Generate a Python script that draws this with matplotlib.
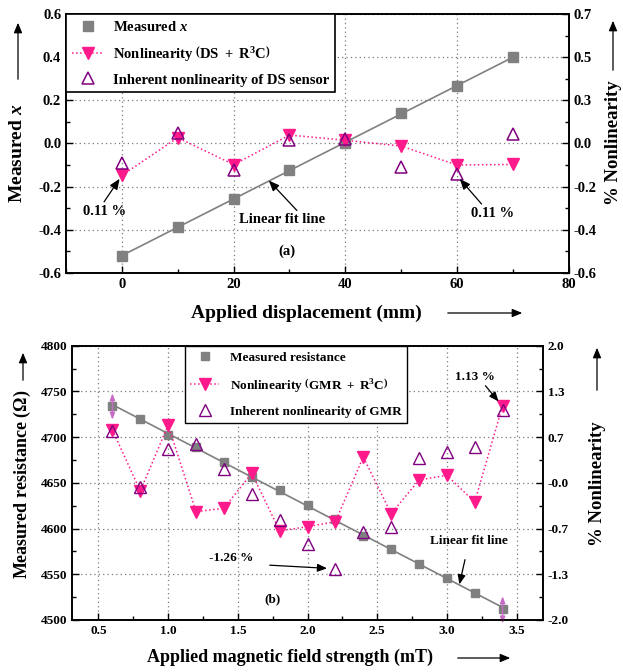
import numpy as np
import matplotlib
matplotlib.use('Agg')
import matplotlib.pyplot as plt
from matplotlib.lines import Line2D

plt.rcParams['font.family'] = ['Liberation Serif', 'DejaVu Serif']
plt.rcParams['font.weight'] = 'bold'
plt.rcParams['mathtext.fontset'] = 'custom'
plt.rcParams['mathtext.rm'] = 'Liberation Serif:bold'
plt.rcParams['mathtext.it'] = 'Liberation Serif:bold:italic'
plt.rcParams['mathtext.bf'] = 'Liberation Serif:bold'

# (a) displacement sensor
disp_mm = [0, 10, 20, 30, 40, 50, 60, 70]
measured_x = [-0.52, -0.389, -0.258, -0.121, 0.0, 0.14, 0.268, 0.40]
nonlin_ds_r3c = [-0.148, 0.027, -0.098, 0.039, 0.015, -0.012, -0.10, -0.097]
nonlin_ds_inherent = [-0.089, 0.047, -0.121, 0.015, 0.023, -0.109, -0.143, 0.042]
ticks_a_right = ['-0.6', '-0.4', '-0.2', '0.0', '0.3', '0.5', '0.7']

# (b) GMR sensor
field_mt = [0.6, 0.8, 1.0, 1.2, 1.4, 1.6, 1.8, 2.0, 2.2, 2.4, 2.6, 2.8, 3.0, 3.2, 3.4]
resistance = [4734, 4719.8, 4701.9, 4688.8, 4673, 4656, 4641.8, 4626, 4610.4,
              4592.2, 4577.6, 4560.8, 4545.5, 4530, 4511.6]
nonlin_gmr_r3c = [0.77, -0.12, 0.843, -0.42, -0.37, 0.14, -0.70, -0.64, -0.566,
                  0.377, -0.45, 0.04, 0.11, -0.28, 1.125]
nonlin_gmr_inherent = [0.756, -0.056, 0.488, 0.566, 0.20, -0.16, -0.54, -0.89, -1.25,
                       -0.72, -0.64, 0.357, 0.445, 0.527, 1.057]
ticks_b_right = ['-2.0', '-1.3', '-0.7', '-0.0', '0.7', '1.3', '2.0']

GRAY = '#808080'
PINK = '#ff1a8c'
PURPLE = '#800080'
ARROW = dict(arrowstyle='-|>,head_length=0.6,head_width=0.25', color='k', lw=0.9)


def style_axis(ax, size):
    ax.tick_params(which='both', direction='in', labelsize=size)
    ax.tick_params(which='major', length=5, width=1)
    ax.tick_params(which='minor', length=3, width=1)
    for s in ax.spines.values():
        s.set_linewidth(1.2)


def grid_me(ax):
    ax.grid(True, which='major', color='#7a7a7a', linestyle=(0, (1, 2.5)),
            linewidth=0.9)
    ax.set_axisbelow(True)


def arrow(fig, x0, y0, x1, y1):
    W, H = 623.0, 672.0
    fig.add_artist(matplotlib.patches.FancyArrowPatch(
        (x0 / W, 1 - y0 / H), (x1 / W, 1 - y1 / H), transform=fig.transFigure,
        arrowstyle='-|>,head_length=6,head_width=2.5', color='k', lw=0.9))


fig = plt.figure(figsize=(6.23, 6.72), dpi=100)

# ---------------- panel (a)
ax = fig.add_axes([0.106, 0.594, 0.807, 0.385])
ax2 = ax.twinx()
ax.set_xlim(-10, 80)
ax.set_ylim(-0.6, 0.6)
ax2.set_ylim(-0.6, 0.6)
ax.set_xticks([0, 20, 40, 60, 80])
ax.set_xticks([-10, 10, 30, 50, 70], minor=True)
ax.set_yticks(np.arange(-0.6, 0.61, 0.2))
ax.set_yticks(np.arange(-0.5, 0.6, 0.2), minor=True)
ax.set_yticklabels(['-0.6', '-0.4', '-0.2', '0.0', '0.2', '0.4', '0.6'])
ax2.set_yticks(np.arange(-0.6, 0.61, 0.2))
ax2.set_yticks(np.arange(-0.5, 0.6, 0.2), minor=True)
ax2.set_yticklabels(ticks_a_right)
style_axis(ax, 10.5)
style_axis(ax2, 10.5)
grid_me(ax)

k, b = np.polyfit(disp_mm, measured_x, 1)
xs = np.array([disp_mm[0], disp_mm[-1]])
ax.plot(xs, k * xs + b, color=GRAY, lw=1.2, zorder=2)
ax.plot(disp_mm, measured_x, 's', color=GRAY, ms=7, zorder=3)
ax2.plot(disp_mm, nonlin_ds_r3c, ':', color=PINK, lw=1.1, marker='v', ms=8,
         mfc=PINK, mec=PINK)
ax2.plot(disp_mm, nonlin_ds_inherent, '^', color=PURPLE, ms=8, mfc='none', mew=1.1)

h = [Line2D([], [], ls='none', marker='s', color=GRAY, ms=7),
     Line2D([], [], ls=':', color=PINK, marker='v', ms=8, lw=1.1),
     Line2D([], [], ls='none', marker='^', color=PURPLE, mfc='none', ms=8, mew=1.1)]
leg = ax2.legend(h, [r'Measured $x$',
                     r'Nonlinearity $\left(\mathrm{DS\ +\ R^3C}\right)$',
                     'Inherent nonlinearity of DS sensor'],
                 loc='upper left', bbox_to_anchor=(0, 1), borderaxespad=0,
                 fancybox=False, edgecolor='k', framealpha=1, fontsize=10.5,
                 labelspacing=0.7, handlelength=2.2, handletextpad=0.6)
leg.get_frame().set_linewidth(1.2)

ax2.annotate('0.11 %', xy=(0, -0.148), xytext=(-7, -0.33), fontsize=10.5,
             arrowprops=dict(ARROW, shrinkA=0, shrinkB=3, relpos=(0.45, 1.0)))
ax2.annotate('0.11 %', xy=(60, -0.15), xytext=(62.5, -0.34), fontsize=10.5,
             arrowprops=dict(ARROW, shrinkA=0, shrinkB=3, relpos=(0.3, 1.0)))
ax.annotate('Linear fit line', xy=(26.3, -0.172), xytext=(21, -0.37), fontsize=10.5,
            arrowprops=dict(ARROW, shrinkA=0, shrinkB=0, relpos=(0.7, 1.0)))
ax.text(29.5, -0.5, '(a)', fontsize=10.5, ha='center', va='center')

fig.text(306 / 623, 1 - 313 / 672, 'Applied displacement (mm)', fontsize=14,
         ha='center', va='center')
fig.text(18 / 623, 1 - 153 / 672, r'Measured $x$', fontsize=14, rotation=90,
         ha='center', va='center')
fig.text(614 / 623, 1 - 143 / 672, '% Nonlinearity', fontsize=13.5, rotation=90,
         ha='center', va='center')
arrow(fig, 445, 313, 525, 313)
arrow(fig, 18, 82, 18, 20)
arrow(fig, 613, 73, 613, 18)

# ---------------- panel (b)
bx = fig.add_axes([0.1156, 0.0774, 0.756, 0.4082])
bx2 = bx.twinx()
bx.set_xlim(0.31, 3.69)
bx.set_ylim(4500, 4800)
bx2.set_ylim(-2, 2)
bx.set_xticks(np.arange(0.5, 3.51, 0.5))
bx.set_xticks(np.arange(0.75, 3.6, 0.5), minor=True)
bx.set_yticks(np.arange(4500, 4801, 50))
bx.set_yticks(np.arange(4525, 4800, 50), minor=True)
bx2.set_yticks(np.linspace(-2, 2, 7))
bx2.set_yticks(np.linspace(-2, 2, 13)[1::2], minor=True)
bx2.set_yticklabels(ticks_b_right)
style_axis(bx, 9.5)
style_axis(bx2, 9.5)
grid_me(bx)

k, b = np.polyfit(field_mt, resistance, 1)
xs = np.array([field_mt[0], field_mt[-1]])
bx.plot(xs, k * xs + b, color=GRAY, lw=1.2, zorder=2)
bx.plot(field_mt, resistance, 's', color=GRAY, ms=6, zorder=3)
bx2.plot(field_mt, nonlin_gmr_r3c, ':', color=PINK, lw=1.1, marker='v', ms=8,
         mfc=PINK, mec=PINK)
bx2.plot(field_mt, nonlin_gmr_inherent, '^', color=PURPLE, ms=8, mfc='none', mew=1.0)

for x0, y0, y1 in [(0.6, 4748, 4719), (3.4, 4526, 4496)]:
    bx.annotate('', xy=(x0, y1), xytext=(x0, y0), annotation_clip=False,
                arrowprops=dict(arrowstyle='<|-|>,head_length=0.4,head_width=0.15',
                                color='#c76bc7', lw=1.0, shrinkA=0, shrinkB=0))

h = [Line2D([], [], ls='none', marker='s', color=GRAY, ms=6),
     Line2D([], [], ls=':', color=PINK, marker='v', ms=8, lw=1.1),
     Line2D([], [], ls='none', marker='^', color=PURPLE, mfc='none', ms=8, mew=1.0)]
leg = bx2.legend(h, ['Measured resistance',
                     r'Nonlinearity $\left(\mathrm{GMR\ +\ R^3C}\right)$',
                     'Inherent nonlinearity of GMR'],
                 loc='upper left', bbox_to_anchor=(0.24, 0.997), borderaxespad=0,
                 fancybox=False, edgecolor='k', framealpha=1, fontsize=9.5,
                 labelspacing=0.9, handlelength=2.2, handletextpad=0.8)
leg.get_frame().set_linewidth(1.0)

bx2.annotate('1.13 %', xy=(3.39, 1.14), xytext=(3.06, 1.5), fontsize=9.5,
             arrowprops=dict(ARROW, shrinkA=0, shrinkB=3, relpos=(0.7, 0.0)))
bx2.annotate('-1.26 %', xy=(2.17, -1.25), xytext=(1.45, -1.1), fontsize=9.5,
             ha='center', va='center',
             arrowprops=dict(ARROW, shrinkA=10, shrinkB=3, relpos=(1.0, 0.0)))
bx.annotate('Linear fit line', xy=(3.09, 4539), xytext=(3.16, 4586), fontsize=9.5,
            ha='center', va='center',
            arrowprops=dict(ARROW, shrinkA=7, shrinkB=0))
bx.text(1.75, 4523, '(b)', fontsize=9.5, ha='center', va='center')

fig.text(290 / 623, 1 - 657 / 672, 'Applied magnetic field strength (mT)', fontsize=13,
         ha='center', va='center')
fig.text(22 / 623, 1 - 484 / 672, r'Measured resistance ($\Omega$)', fontsize=13,
         rotation=90, ha='center', va='center')
fig.text(598 / 623, 1 - 484 / 672, '% Nonlinearity', fontsize=13.5, rotation=90,
         ha='center', va='center')
arrow(fig, 455, 658, 513, 658)
arrow(fig, 23, 383, 23, 350)
arrow(fig, 597, 393, 597, 345)

fig.savefig('out.png', dpi=100)
